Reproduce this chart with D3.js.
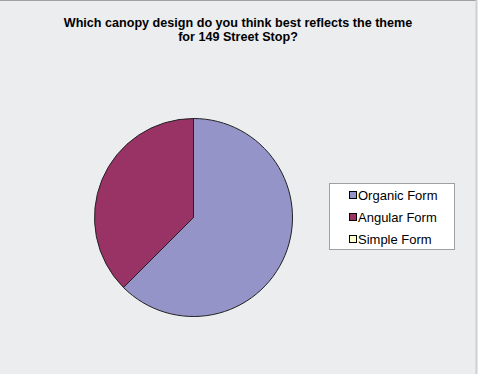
<!DOCTYPE html>
<html><head><meta charset="utf-8">
<script src="https://cdn.jsdelivr.net/npm/d3@7"></script>
<style>body{margin:0;background:#fff;}svg{display:block;}</style>
</head><body>
<script>
const categories = ["Organic Form", "Angular Form", "Simple Form"];
const values = [62.5, 37.5, 0];
const colors = ["#9494c8", "#993366", "#ffffcc"];
const titleLines = ["Which canopy design do you think best reflects the theme", "for 149 Street Stop?"];

const W = 493, H = 374;
const svg = d3.select("body").append("svg").attr("width", W).attr("height", H);
svg.append("rect").attr("x", 0).attr("y", 0).attr("width", 476).attr("height", H).attr("fill", "#ecedef");
svg.append("line").attr("x1", 0).attr("x2", 477).attr("y1", 0.5).attr("y2", 0.5).attr("stroke", "#a0a0a0");
svg.append("line").attr("x1", 476.5).attr("x2", 476.5).attr("y1", 0).attr("y2", H).attr("stroke", "#d0d0d0").attr("stroke-width", 2);

titleLines.forEach((t, i) => svg.append("text")
  .attr("font-family", "Liberation Sans, Arial, sans-serif").attr("font-weight", "bold")
  .attr("font-size", 12.6).attr("fill", "#000").attr("text-anchor", "middle").attr("letter-spacing", "0")
  .attr("x", 238).attr("y", 27 + i * 14).text(t));

const pie = d3.pie().sort(null).value(d => d)(values);
const arc = d3.arc().innerRadius(0).outerRadius(99);
const g = svg.append("g").attr("transform", "translate(193.5,217.5)");
g.selectAll("path").data(pie.filter(d => d.value > 0)).join("path")
  .attr("d", arc).attr("fill", d => colors[d.index]).attr("stroke", "#222").attr("stroke-width", 1);

const lg = svg.append("g");
lg.append("rect").attr("x", 329.5).attr("y", 183.5).attr("width", 125).attr("height", 66).attr("fill", "#fff").attr("stroke", "#a0a0a0");
categories.forEach((c, i) => {
  const y = 195 + i * 22;
  lg.append("rect").attr("x", 349.5).attr("y", y - 3.5).attr("width", 7).attr("height", 7).attr("fill", colors[i]).attr("stroke", "#000");
  lg.append("text").attr("x", 358).attr("y", y + 4.5).attr("font-family", "Liberation Sans, Arial, sans-serif").attr("font-size", 13).attr("fill", "#000").text(c);
});
</script>
</body></html>
